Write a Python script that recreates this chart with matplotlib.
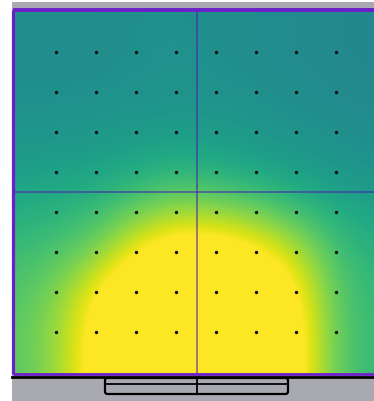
import numpy as np
import matplotlib
matplotlib.use("Agg")
import matplotlib.pyplot as plt
from matplotlib.patches import Rectangle, FancyBboxPatch

# sensor grid: 8 x 8 measuring points, indices 0..7
sensor_cols = list(range(8))
sensor_rows = list(range(8))

# measured level, rows -1..8 (top to bottom), cols -1..8 (left to right)
# the outer ring is the value at the room walls
heat = np.array([
    [0.49, 0.49, 0.49, 0.50, 0.50, 0.49, 0.49, 0.48, 0.47, 0.46],
    [0.49, 0.49, 0.49, 0.50, 0.51, 0.50, 0.49, 0.48, 0.47, 0.46],
    [0.50, 0.50, 0.50, 0.51, 0.51, 0.51, 0.50, 0.49, 0.48, 0.47],
    [0.52, 0.52, 0.53, 0.54, 0.55, 0.54, 0.53, 0.51, 0.50, 0.49],
    [0.56, 0.57, 0.58, 0.61, 0.65, 0.63, 0.59, 0.56, 0.53, 0.51],
    [0.62, 0.64, 0.68, 0.78, 0.86, 0.84, 0.79, 0.70, 0.62, 0.58],
    [0.68, 0.72, 0.80, 1.00, 1.12, 1.12, 1.04, 0.90, 0.70, 0.63],
    [0.72, 0.80, 1.00, 1.20, 1.25, 1.25, 1.20, 1.03, 0.74, 0.66],
    [0.74, 0.84, 1.06, 1.25, 1.25, 1.25, 1.25, 1.08, 0.75, 0.67],
    [0.73, 0.84, 1.06, 1.25, 1.25, 1.25, 1.25, 1.08, 0.75, 0.66],
])

fig = plt.figure(figsize=(3.74, 4.02), dpi=100)
ax = fig.add_axes([0, 0, 1, 1])
ax.set_xlim(-1.4, 7.95)
ax.set_ylim(8.725, -1.325)
ax.axis("off")

# grey surround
ax.add_patch(Rectangle((-1.1, -1.25), 10, 10.5, facecolor="#a9aab1", edgecolor="none", zorder=0))

# room outline (clip region for the heat map)
room = Rectangle((-1.05, -1.025), 9.2, 9.05, facecolor="none", edgecolor="none")
ax.add_patch(room)
im = ax.imshow(heat, cmap="viridis", vmin=0, vmax=1, interpolation="bicubic",
               extent=(-1.5, 8.5, 8.5, -1.5), zorder=1)
im.set_clip_path(room)

# room walls
ax.plot([-1.0625, -1.0625], [-1.06, 8.04], color="#6a1fc8", lw=2.3, zorder=3, solid_capstyle="butt")
ax.plot([-1.08, 8.2], [-1.04, -1.04], color="#6a1fc8", lw=2.8, zorder=3, solid_capstyle="butt")
ax.plot([-1.08, 8.2], [8.04, 8.04], color="#6a1fc8", lw=2.0, zorder=3, solid_capstyle="butt")
ax.plot([-1.1, 8.2], [8.1125, 8.1125], color="black", lw=2.0, zorder=3)

# quadrant dividers
ax.plot([3.525, 3.525], [-1.0, 8.02], color="#4a20b0", alpha=0.6, lw=1.3, zorder=2)
ax.plot([-1.04, 8.2], [3.5, 3.5], color="#4a20b0", alpha=0.6, lw=1.3, zorder=2)

# sensor points
gx, gy = np.meshgrid(sensor_cols, sensor_rows)
ax.scatter(gx.ravel(), gy.ravel(), s=6, color="#111111", zorder=4, linewidths=0)

# door / bench below the room
ax.add_patch(FancyBboxPatch((1.225, 8.15), 4.575, 0.4,
                            boxstyle="round,pad=0,rounding_size=0.06",
                            facecolor="none", edgecolor="black", lw=1.6, zorder=4))
ax.plot([1.225, 5.8], [8.3, 8.3], color="black", lw=1.3, zorder=4)
ax.plot([3.525, 3.525], [8.15, 8.55], color="black", lw=1.3, zorder=4)

fig.savefig("out.png", dpi=100)
